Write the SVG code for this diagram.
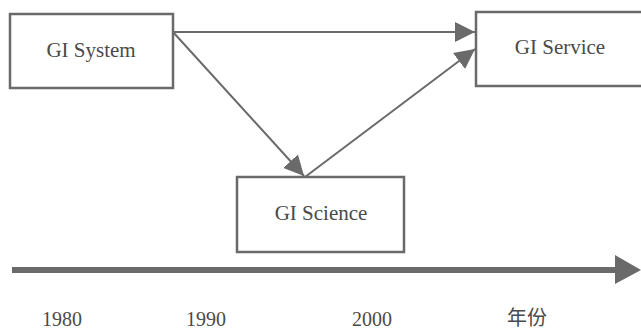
<svg xmlns="http://www.w3.org/2000/svg" width="641" height="331" viewBox="0 0 641 331">
<style>
.box{fill:#fff;stroke:#6a6a6a;stroke-width:2.5}
.lbl{font-family:"Liberation Serif","Times New Roman",serif;font-size:21px;fill:#4a4a4a;text-anchor:middle}
.yr{font-family:"Liberation Serif","Noto Sans CJK SC",serif;font-size:20px;fill:#4a4a4a;text-anchor:middle}
.conn{stroke:#6a6a6a;stroke-width:2;fill:none}
</style>
<defs>
<marker id="ah" markerUnits="userSpaceOnUse" markerWidth="20" markerHeight="20" viewBox="0 0 18 18" refX="18" refY="9" orient="auto">
<path d="M0,0 L18,9 L0,18 Z" fill="#6a6a6a"/>
</marker>
</defs>
<rect width="641" height="331" fill="#fff"/>
<g id="connectors">
<line class="conn" x1="173" y1="32" x2="475" y2="32" marker-end="url(#ah)"/>
<line class="conn" x1="173" y1="32" x2="304" y2="176" marker-end="url(#ah)"/>
<line class="conn" x1="305" y1="177" x2="475" y2="49" marker-end="url(#ah)"/>
</g>
<g id="timeline">
<line x1="12" y1="270" x2="618" y2="270" stroke="#6a6a6a" stroke-width="6"/>
<path d="M615,255 L641,270 L615,284 Z" fill="#6a6a6a"/>
</g>
<g id="gi-system">
<rect class="box" x="10" y="14" width="163" height="74"/>
<text class="lbl" x="91" y="57">GI System</text>
</g>
<g id="gi-service">
<rect class="box" x="476" y="12" width="170" height="74"/>
<text class="lbl" x="560" y="54">GI Service</text>
</g>
<g id="gi-science">
<rect class="box" x="237" y="177" width="167" height="75"/>
<text class="lbl" x="321" y="220">GI Science</text>
</g>
<g id="years">
<text class="yr" x="62" y="326">1980</text>
<text class="yr" x="206" y="326">1990</text>
<text class="yr" x="372" y="326">2000</text>
<text class="yr" x="527" y="325">年份</text>
</g>
</svg>
